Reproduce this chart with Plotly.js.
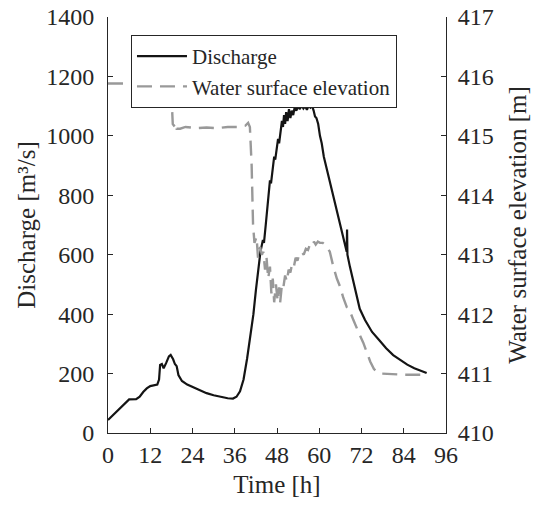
<!DOCTYPE html>
<html>
<head>
<meta charset="utf-8">
<script src="https://cdn.plot.ly/plotly-3.0.1.min.js"></script>
<style>
html,body{margin:0;padding:0;background:#fff;}
#chart{width:533px;height:510px;}
#chart text{font-family:"Liberation Serif","Times New Roman",serif !important;}
</style>
</head>
<body>
<div id="chart"></div>
<script>
// Discharge series
const qTime = [0,2,4,6,8,9,10,11,12,13,14,14.5,14.8,15.3,15.8,16.5,17.3,17.8,18.5,19,19.5,20,21,22.5,24,26,28,30,32,34,35.5,36.5,37.5,38.5,39.5,40.5,41.3,42,42.7,43.3,44,44.3,44.8,45.5,46,46.3,46.8,47.2,47.5,47.9,48.3,48.6,49,49.4,49.7,50,50.3,50.6,51,51.4,51.8,52.2,52.6,53,53.5,54,54.5,55,55.5,56,56.5,57,57.5,58,58.4,58.8,59.2,59.7,60.2,60.7,61.3,62,63,64,65,66,67,67.8,67.9,68,68.7,70,71.5,73,75,77,79,81,83,85,87,89,90.5];
const discharge = [44,67,90,113,114,122,138,150,158,160,163,180,229,232,218,235,258,263,248,232,225,195,175,163,155,143,134,127,121,117,116,122,140,180,250,330,400,480,550,610,650,640,700,780,850,840,900,930,920,960,990,975,1010,1050,1030,1070,1040,1080,1050,1090,1060,1085,1070,1095,1085,1100,1090,1103,1092,1100,1088,1102,1095,1100,1085,1065,1060,1040,1000,975,930,895,845,795,745,694,648,610,685,600,560,490,418,380,340,313,285,262,245,230,218,208,202];

// Water surface elevation series
const hTime = [0,18,18.2,18.4,19,19.3,19.5,20.5,22,25,28,31,34,37,39,39.8,40.3,40.8,41.2,41.6,42.2,42.6,43.2,43.7,44.1,44.6,45,45.5,46,46.4,46.8,47.2,47.7,48.2,48.6,48.9,49.4,49.8,50.3,50.8,51.3,51.8,52.3,52.8,53.3,53.8,54.3,55,55.6,56.2,56.8,57.4,58,58.5,59,59.6,60.2,61,62,63,64,65,66,66.8,67.8,68.7,69.7,70.5,71.5,72.5,73.5,74.5,75.5,76.5,77.5,80,84,88,90];
const elevation = [415.88,415.88,415.45,415.2,415.15,415.2,415.12,415.12,415.15,415.13,415.14,415.13,415.15,415.15,415.17,415.22,415.15,414.5,413.5,413.2,413.3,412.95,413.13,413.0,413.05,412.75,412.97,412.6,412.8,412.35,412.6,412.2,412.5,412.22,412.45,412.2,412.5,412.45,412.65,412.55,412.75,412.7,412.85,412.8,412.95,412.9,413.0,413.05,413.0,413.1,413.08,413.18,413.15,413.22,413.17,413.22,413.2,413.2,413.15,413.05,412.8,412.6,412.45,412.28,412.12,412.05,411.9,411.78,411.65,411.52,411.35,411.2,411.08,411.02,411.0,410.99,410.98,410.98,410.98];

const xTicks = [0,12,24,36,48,60,72,84,96];
const yTicks = [0,200,400,600,800,1000,1200,1400];
const y2Ticks = [410,411,412,413,414,415,416,417];

const FONT = 'Liberation Serif';
const AX = '#262626';

const traces = [
  {x: qTime, y: discharge, type: 'scatter', mode: 'lines', name: 'Discharge',
   line: {color: '#141414', width: 2.2}, yaxis: 'y'},
  {x: hTime, y: elevation, type: 'scatter', mode: 'lines', name: 'Water surface elevation',
   line: {color: '#999999', width: 2.4, dash: '15px,8px'}, yaxis: 'y2'}
];

function axisBase() {
  return {
    showgrid: false, zeroline: false, showline: true, linecolor: AX, linewidth: 1,
    ticks: 'inside', ticklen: 5, tickcolor: AX, tickwidth: 1,
    tickfont: {family: FONT, size: 24, color: AX}
  };
}

const layout = {
  width: 533, height: 510,
  margin: {l: 108, r: 87, t: 17, b: 77},
  paper_bgcolor: '#fff', plot_bgcolor: '#fff',
  font: {family: FONT, color: AX},
  showlegend: true,
  legend: {x: 0.068, y: 0.957, xanchor: 'left', yanchor: 'top',
    bgcolor: '#fff', bordercolor: AX, borderwidth: 1,
    font: {family: FONT, size: 21, color: AX}, itemwidth: 50, tracegroupgap: 0},
  xaxis: Object.assign(axisBase(), {range: [0, 96], tickvals: xTicks, ticklabelstandoff: 0,
    title: {text: 'Time [h]', font: {family: FONT, size: 25, color: AX}, standoff: 8}}),
  yaxis: Object.assign(axisBase(), {range: [0, 1400], tickvals: yTicks, ticklabelstandoff: 8,
    title: {text: 'Discharge [m³/s]', font: {family: FONT, size: 25, color: AX}, standoff: 3}}),
  yaxis2: Object.assign(axisBase(), {range: [410, 417], tickvals: y2Ticks, ticklabelstandoff: 6,
    overlaying: 'y', side: 'right',
    title: {text: 'Water surface elevation [m]', font: {family: FONT, size: 25, color: AX}, standoff: 15}})
};

Plotly.newPlot('chart', traces, layout, {displayModeBar: false, staticPlot: true});
</script>
</body>
</html>
